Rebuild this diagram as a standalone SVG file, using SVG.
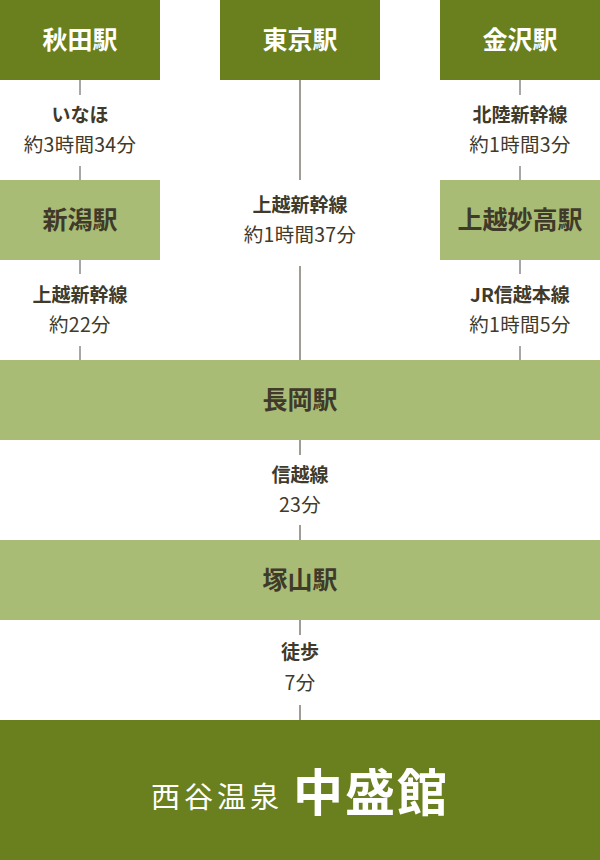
<svg xmlns="http://www.w3.org/2000/svg" width="600" height="860" viewBox="0 0 600 860">
<style>
.dk{fill:#6a7f1e}
.lt{fill:#a9bc76}
.st{font-family:"Noto Sans CJK JP","Noto Sans",sans-serif;font-weight:700;font-size:25px;text-anchor:middle}
.w{fill:#ffffff}
.b{fill:#3f3a2a}
.lb{font-family:"Noto Sans CJK JP","Noto Sans",sans-serif;font-weight:700;font-size:19px;text-anchor:middle;fill:#3f3a2a}
.tm{font-family:"Noto Sans CJK JP","Noto Sans",sans-serif;font-weight:400;font-size:19.5px;text-anchor:middle;fill:#3f3a2a;letter-spacing:0.3px}
.cg{stroke:#8a8a8a;stroke-width:1.5}
.cd{stroke:#3f3a2a;stroke-width:1}
.logo{font-family:"Noto Sans CJK JP",sans-serif;fill:#ffffff;text-anchor:middle}
</style>
<rect width="600" height="860" fill="#ffffff"/>
<g id="connectors">
<line class="cg" x1="80" y1="80" x2="80" y2="95"/>
<line class="cg" x1="80" y1="166" x2="80" y2="180"/>
<line class="cg" x1="80" y1="260" x2="80" y2="274"/>
<line class="cg" x1="80" y1="346" x2="80" y2="360"/>
<line class="cg" x1="520" y1="80" x2="520" y2="95"/>
<line class="cg" x1="520" y1="166" x2="520" y2="180"/>
<line class="cg" x1="520" y1="260" x2="520" y2="274"/>
<line class="cg" x1="520" y1="346" x2="520" y2="360"/>
<line class="cd" x1="300" y1="80" x2="300" y2="180"/>
<line class="cd" x1="300" y1="266" x2="300" y2="360"/>
<line class="cd" x1="300" y1="440" x2="300" y2="455"/>
<line class="cd" x1="300" y1="525" x2="300" y2="540"/>
<line class="cd" x1="300" y1="620" x2="300" y2="635"/>
<line class="cd" x1="300" y1="705" x2="300" y2="720"/>
<text class="lb" x="80" y="122">いなほ</text>
<text class="tm" x="80" y="152">約3時間34分</text>
<text class="lb" x="80" y="302">上越新幹線</text>
<text class="tm" x="80" y="332">約22分</text>
<text class="lb" x="300" y="212">上越新幹線</text>
<text class="tm" x="300" y="242">約1時間37分</text>
<text class="lb" x="520" y="122">北陸新幹線</text>
<text class="tm" x="520" y="152">約1時間3分</text>
<text class="lb" x="520" y="302">JR信越本線</text>
<text class="tm" x="520" y="332">約1時間5分</text>
<text class="lb" x="300" y="482">信越線</text>
<text class="tm" x="300" y="512">23分</text>
<text class="lb" x="300" y="659">徒歩</text>
<text class="tm" x="300" y="690">7分</text>
</g>
<g id="akita"><rect class="dk" x="0" y="0" width="160" height="80"/><text class="st w" x="80" y="49">秋田駅</text></g>
<g id="tokyo"><rect class="dk" x="220" y="0" width="160" height="80"/><text class="st w" x="300" y="49">東京駅</text></g>
<g id="kanazawa"><rect class="dk" x="440" y="0" width="160" height="80"/><text class="st w" x="520" y="49">金沢駅</text></g>
<g id="niigata"><rect class="lt" x="0" y="180" width="160" height="80"/><text class="st b" x="80" y="229">新潟駅</text></g>
<g id="joetsumyoko"><rect class="lt" x="440" y="180" width="160" height="80"/><text class="st b" x="520" y="229">上越妙高駅</text></g>
<g id="nagaoka"><rect class="lt" x="0" y="360" width="600" height="80"/><text class="st b" x="300" y="409">長岡駅</text></g>
<g id="tsukayama"><rect class="lt" x="0" y="540" width="600" height="80"/><text class="st b" x="300" y="589">塚山駅</text></g>
<g id="nakamorikan"><rect class="dk" x="0" y="720" width="600" height="140"/>
<text class="logo" x="217" y="808" font-size="29" letter-spacing="4">西谷温泉</text>
<text class="logo" x="371" y="811" font-size="50" font-weight="700" letter-spacing="2">中盛館</text>
</g>
</svg>
